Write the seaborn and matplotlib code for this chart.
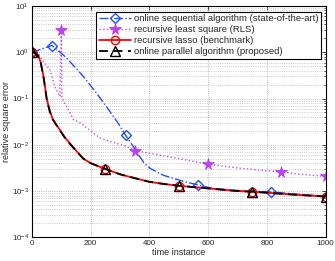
import numpy as np
import pandas as pd
import matplotlib
matplotlib.use("Agg")
import matplotlib.pyplot as plt
import seaborn as sns
from matplotlib.ticker import LogLocator, NullLocator

# ---- data ----
seq_x = [0, 68, 100, 118, 175, 220, 266, 294, 319, 345, 380, 402, 447, 504, 565, 620, 700, 815, 900, 1000]
seq_y = [1.0, 1.4, 0.95, 0.75, 0.30, 0.13, 0.052, 0.029, 0.016, 0.0092, 0.0042, 0.0031, 0.0022, 0.0017,
         0.00135, 0.00113, 0.00103, 0.00096, 0.00086, 0.00077]
seq_mark_x = [0, 68, 319, 565, 815]

rls_x = [0, 20, 40, 61, 78, 95, 100, 102, 118, 141, 164, 209, 232, 266, 323, 351, 459, 550, 600, 700, 800,
         850, 900, 1000]
rls_y = [1.0, 0.93, 0.62, 0.42, 0.18, 0.11, 3.05, 0.10, 0.067, 0.035, 0.030, 0.018, 0.014, 0.0118, 0.0092,
         0.0075, 0.0056, 0.0044, 0.0038, 0.00315, 0.00275, 0.0026, 0.00235, 0.00207]
rls_mark_x = [100, 351, 600, 850, 1000]

lasso_x = [0, 10, 20, 30, 40, 50, 60, 70, 80, 95, 110, 130, 150, 175, 200, 250, 300, 350, 400, 450, 500,
           600, 700, 750, 800, 900, 1000]
lasso_y = [1.0, 0.98, 0.88, 0.60, 0.28, 0.10, 0.055, 0.037, 0.029, 0.021, 0.015, 0.0105, 0.0075, 0.0050,
           0.0040, 0.0030, 0.0023, 0.0019, 0.00158, 0.00142, 0.0013, 0.00114, 0.00100, 0.00097, 0.00092,
           0.00083, 0.00076]
lasso_mark_x = [0, 250, 500, 750, 1000]

par_x = lasso_x
par_y = [1.0, 0.97, 0.86, 0.58, 0.27, 0.098, 0.054, 0.036, 0.0285, 0.0207, 0.0148, 0.0104, 0.0074, 0.0050,
         0.0040, 0.0030, 0.0023, 0.0019, 0.00158, 0.00142, 0.0013, 0.00114, 0.00100, 0.00097, 0.00092,
         0.00083, 0.00076]
par_mark_x = [0, 250, 500, 750, 1000]

labels = ["online sequential algorithm (state-of-the-art)",
          "recursive least square (RLS)",
          "recursive lasso (benchmark)",
          "online parallel algorithm (proposed)"]
x_ticks = [0, 200, 400, 600, 800, 1000]

sns.set_style("white")
plt.rcParams['font.family'] = ['Liberation Sans', 'DejaVu Sans']
plt.rcParams['mathtext.fontset'] = 'custom'
plt.rcParams['mathtext.rm'] = 'Liberation Sans'
plt.rcParams['mathtext.it'] = 'Liberation Sans:italic'
plt.rcParams['mathtext.bf'] = 'Liberation Sans:bold'
FS = 5.8
FS_LAB = 6.5
FS_LEG = 6.8

fig = plt.figure(figsize=(3.35, 2.61), dpi=100)
ax = fig.add_axes([32 / 335, 1 - 237.3 / 261, 293.5 / 335, 231.3 / 261])

def idx(xs, marks):
    return [xs.index(m) for m in marks]

series = [
    (seq_x, seq_y, seq_mark_x, dict(color='#2050ff', linestyle='-.', linewidth=1.0, marker='D',
                                   markersize=5, markerfacecolor='none', markeredgecolor='#2050ff',
                                   markeredgewidth=1.0)),
    (rls_x, rls_y, rls_mark_x, dict(color='#c050f0', linestyle=':', linewidth=1.0, marker='*',
                                   markersize=8.5, markerfacecolor='#c040f8', markeredgecolor='#b030f0',
                                   markeredgewidth=0.5)),
    (lasso_x, lasso_y, lasso_mark_x, dict(color='#ff0000', linestyle='-', linewidth=1.3, marker='o',
                                         markersize=6, markerfacecolor='none', markeredgecolor='#ff0000',
                                         markeredgewidth=1.0)),
    (par_x, par_y, par_mark_x, dict(color='black', linestyle=(0, (5, 3)), linewidth=1.3, marker='^',
                                   markersize=6.5, markerfacecolor='none', markeredgecolor='black',
                                   markeredgewidth=1.0)),
]

for (xs, ys, mk, style), lab in zip(series, labels):
    df = pd.DataFrame({'x': xs, 'y': ys})
    sns.lineplot(data=df, x='x', y='y', ax=ax, sort=False, estimator=None, label=lab,
                 markevery=idx(xs, mk), **style)

ax.set_yscale('log')
ax.set_xlim(0, 1000)
ax.set_ylim(1e-4, 10)
ax.set_xticks(x_ticks)
ax.xaxis.set_minor_locator(NullLocator())
ax.yaxis.set_major_locator(LogLocator(base=10, numticks=10))
ax.yaxis.set_minor_locator(LogLocator(base=10, subs=np.arange(2, 10), numticks=20))

ax.grid(True, which='major', axis='both', linestyle=':', linewidth=0.6, color='0.65')
ax.grid(True, which='minor', axis='y', linestyle=':', linewidth=0.6, color='0.72')
ax.set_axisbelow(True)

ax.tick_params(which='both', direction='in', top=True, right=True, labelsize=FS, pad=2)
ax.tick_params(which='major', length=3, width=0.6)
ax.tick_params(which='minor', length=1.5, width=0.5)
for s in ax.spines.values():
    s.set_linewidth(0.8)
    s.set_color('black')

ax.set_xlabel('time instance', fontsize=FS_LAB, labelpad=1)
ax.set_ylabel('relative square error', fontsize=FS_LAB, labelpad=1)

leg = ax.legend(loc='upper right', bbox_to_anchor=(0.985, 0.975), fontsize=FS_LEG, frameon=True,
                fancybox=False, framealpha=1, edgecolor='black', handlelength=3.4,
                handletextpad=0.35, labelspacing=0.22, borderpad=0.25, borderaxespad=0)
leg.get_frame().set_linewidth(0.8)

fig.savefig('out.png', dpi=100)
